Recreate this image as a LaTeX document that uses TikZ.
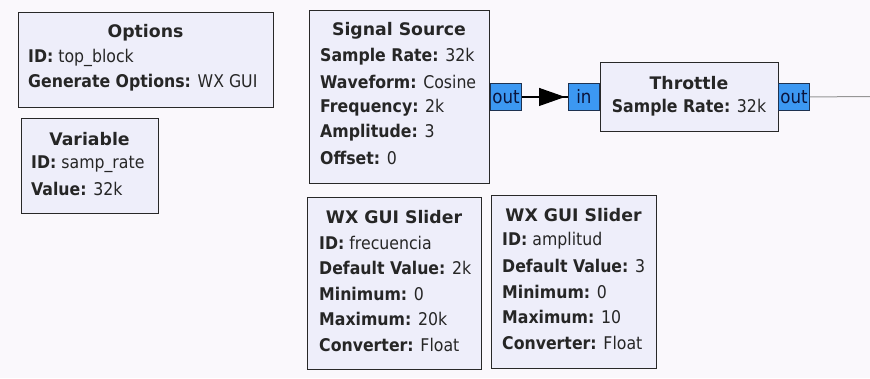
\documentclass[tikz,border=0pt]{standalone}
\usepackage{fontspec}
\setmainfont{DejaVu Sans Condensed}
\newfontfamily\blocktitlefont{DejaVu Sans}
\usetikzlibrary{arrows.meta}
\definecolor{canvas}{RGB}{250,248,252}
\definecolor{boxfill}{RGB}{238,238,250}
\definecolor{boxline}{RGB}{40,40,40}
\definecolor{portfill}{RGB}{60,152,242}
\definecolor{portline}{RGB}{30,50,80}
\definecolor{porttext}{RGB}{10,20,60}
\definecolor{wire}{RGB}{150,150,150}
\tikzset{
  block/.style={draw=boxline, fill=boxfill, line width=1.2pt, inner sep=0pt, anchor=north west},
  port/.style={draw=portline, fill=portfill, line width=0.9pt, minimum width=31pt, minimum height=27pt,
    inner sep=0pt, anchor=north west, text=porttext, font=\fontsize{18.5}{18.5}\selectfont},
  title/.style={anchor=center, inner sep=0pt, text=black!85, font=\blocktitlefont\fontsize{17.3}{17.3}\selectfont\bfseries},
  prop/.style={anchor=west, inner sep=0pt, text=black!85, font=\fontsize{17.5}{17.5}\selectfont},
}
\begin{document}
\begin{tikzpicture}[x=1pt,y=-1pt]
  \fill[canvas] (0,0) rectangle (870,378);
  \useasboundingbox (0,0) rectangle (870,378);

  % Options block
  \node[block, minimum width=255pt, minimum height=95pt] (options) at (18,12) {};
  \node[title] (optT) at (145.5,33) {Options};
  \node[prop] (opt1) at (28,58) {\textbf{ID:} top\_block};
  \node[prop] (opt2) at (28,83) {\textbf{Generate Options:} WX GUI};

  % Variable block
  \node[block, minimum width=137pt, minimum height=95pt] (variable) at (21,118) {};
  \node[title] (varT) at (89.5,139) {Variable};
  \node[prop] (var1) at (31,164) {\textbf{ID:} samp\_rate};
  \node[prop] (var2) at (31,189) {\textbf{Value:} 32k};

  % Signal Source block
  \node[block, minimum width=180pt, minimum height=173pt] (source) at (309,10) {};
  \node[title] (srcT) at (399,31) {Signal Source};
  \node[prop] (src1) at (320,57) {\textbf{Sample Rate:} 32k};
  \node[prop] (src2) at (320,82) {\textbf{Waveform:} Cosine};
  \node[prop] (src3) at (320,108) {\textbf{Frequency:} 2k};
  \node[prop] (src4) at (320,133) {\textbf{Amplitude:} 3};
  \node[prop] (src5) at (320,158) {\textbf{Offset:} 0};
  \node[port] (srcout) at (490,83) {out};

  % Throttle block
  \node[block, minimum width=178pt, minimum height=69pt] (throttle) at (600,62) {};
  \node[title] (thrT) at (689,83) {Throttle};
  \node[prop, anchor=center] (thr1) at (689,108) {\textbf{Sample Rate:} 32k};
  \node[port] (thrin) at (568,83) {in};
  \node[port] (throut) at (778,83) {out};

  % Frequency slider
  \node[block, minimum width=174pt, minimum height=172pt] (slider1) at (307,197) {};
  \node[title] (s1T) at (394,217) {WX GUI Slider};
  \node[prop] (s11) at (319,243) {\textbf{ID:} frecuencia};
  \node[prop] (s12) at (319,268) {\textbf{Default Value:} 2k};
  \node[prop] (s13) at (319,294) {\textbf{Minimum:} 0};
  \node[prop] (s14) at (319,319) {\textbf{Maximum:} 20k};
  \node[prop] (s15) at (319,345) {\textbf{Converter:} Float};

  % Amplitude slider
  \node[block, minimum width=165pt, minimum height=173pt] (slider2) at (491,195) {};
  \node[title] (s2T) at (573.5,215) {WX GUI Slider};
  \node[prop] (s21) at (502,241) {\textbf{ID:} amplitud};
  \node[prop] (s22) at (502,266) {\textbf{Default Value:} 3};
  \node[prop] (s23) at (502,292) {\textbf{Minimum:} 0};
  \node[prop] (s24) at (502,317) {\textbf{Maximum:} 10};
  \node[prop] (s25) at (502,343) {\textbf{Converter:} Float};

  % Connections: the wire runs port to port, the head sits just short of the input
  \draw[line width=1.1pt] (srcout.east) -- (thrin.west);
  \draw[line width=1.1pt, shorten >=3pt, -{Triangle[length=26pt,width=18pt]}] (srcout.east) -- (thrin.west);
  \coordinate (edge) at (870,96.5);
  \draw[wire, line width=1pt] (throut.east) -- (edge);
\end{tikzpicture}
\end{document}
